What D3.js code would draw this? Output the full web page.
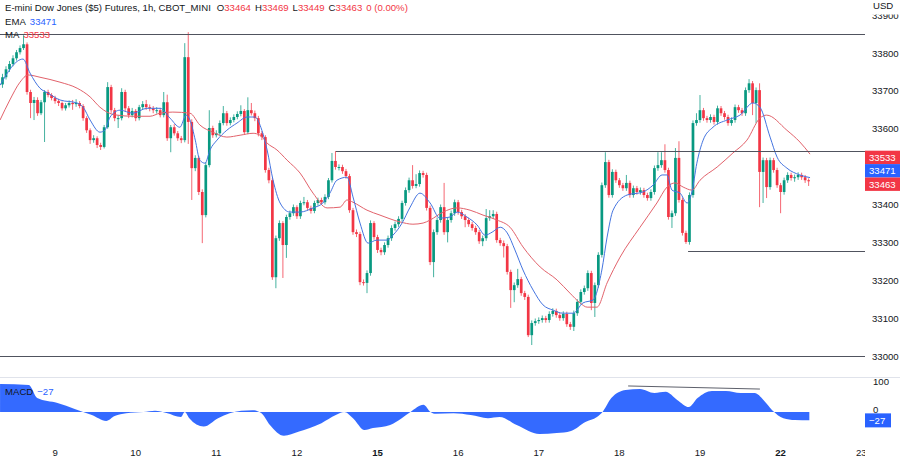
<!DOCTYPE html>
<html><head><meta charset="utf-8">
<script src="https://cdn.jsdelivr.net/npm/d3@7/dist/d3.min.js"></script>
<style>
html,body{margin:0;padding:0;background:#fff;}
svg{display:block;}
text{font-family:"Liberation Sans",Arial,sans-serif;}
</style></head>
<body><svg id="chart" width="900" height="459"></svg>
<script>
// ---------- DATA ----------
const title = "E-mini Dow Jones ($5) Futures, 1h, CBOT_MINI";
const changeText = "0 (0.00%)";
const firstOpen = 33717;
const closes = [
33736,33757,33771,33786,33802,33813,33823,33697,33668,33676,
33641,33670,33697,33689,33681,33673,33668,33654,33662,33668,
33665,33668,33660,33628,33596,33570,33575,33557,33552,33604,
33710,33649,33628,33628,33697,33654,33636,33647,33628,33657,
33665,33657,33654,33649,33649,33636,33670,33575,33604,33588,
33575,33570,33789,33618,33496,33523,33433,33372,33504,33602,
33583,33588,33615,33641,33615,33623,33631,33639,33647,33591,
33649,33641,33628,33588,33578,33491,33464,33208,33311,33351,
33293,33367,33377,33393,33369,33404,33406,33391,33383,33404,
33412,33406,33420,33464,33515,33499,33499,33488,33475,33385,
33327,33322,33195,33193,33219,33351,33314,33280,33274,33293,
33311,33338,33348,33362,33404,33438,33464,33449,33454,33483,
33478,33391,33248,33327,33359,33393,33327,33359,33377,33406,
33380,33369,33359,33348,33338,33327,33303,33311,33364,33369,
33375,33306,33298,33290,33222,33174,33187,33203,33166,33156,
33055,33087,33092,33095,33100,33095,33111,33119,33108,33100,
33111,33084,33077,33113,33143,33169,33179,33219,33140,33187,
33267,33451,33512,33425,33486,33464,33451,33443,33457,33425,
33443,33433,33438,33425,33417,33433,33496,33504,33517,33491,
33367,33377,33523,33412,33325,33301,33425,33615,33623,33649,
33628,33623,33631,33618,33654,33641,33631,33615,33623,33657,
33649,33641,33702,33720,33668,33702,33486,33517,33446,33517,
33491,33451,33433,33464,33478,33470,33472,33478,33472,33464,
33463];
const highs = [
33745,33765,33779,33794,33808,33820,33847,33828,33703,33684,
33683,33676,33702,33703,33694,33687,33679,33672,33668,33675,
33676,33678,33673,33665,33633,33601,33583,33580,33563,33610,
33723,33716,33655,33636,33707,33703,33660,33655,33652,33663,
33673,33676,33664,33660,33657,33655,33697,33690,33610,33612,
33594,33581,33826,33855,33625,33530,33528,33440,33512,33649,
33608,33596,33622,33660,33647,33630,33638,33646,33662,33652,
33683,33668,33648,33634,33594,33583,33497,33470,33318,33358,
33356,33373,33384,33400,33398,33410,33420,33412,33397,33410,
33418,33418,33427,33470,33536,33541,33506,33505,33494,33481,
33391,33334,33328,33202,33226,33358,33356,33320,33286,33300,
33318,33345,33355,33369,33410,33445,33471,33504,33480,33490,
33489,33484,33397,33334,33366,33400,33457,33366,33384,33413,
33412,33386,33375,33365,33354,33344,33333,33318,33388,33385,
33385,33381,33312,33305,33296,33228,33194,33230,33209,33172,
33162,33094,33099,33102,33107,33106,33118,33126,33125,33114,
33118,33117,33090,33120,33150,33176,33186,33226,33225,33194,
33274,33458,33538,33518,33493,33492,33470,33457,33478,33463,
33450,33449,33445,33444,33431,33440,33503,33538,33538,33559,
33497,33384,33549,33567,33418,33331,33432,33622,33641,33689,
33655,33634,33638,33637,33661,33660,33647,33637,33630,33664,
33663,33655,33709,33731,33726,33709,33720,33524,33523,33524,
33523,33497,33457,33471,33485,33484,33479,33485,33484,33478,
33469];
const lows = [
33708,33730,33750,33765,33780,33796,33808,33690,33628,33623,
33634,33636,33565,33683,33675,33666,33660,33648,33648,33656,
33650,33658,33654,33621,33589,33560,33563,33549,33544,33548,
33600,33642,33620,33602,33622,33647,33628,33630,33620,33622,
33650,33650,33646,33641,33640,33630,33630,33568,33538,33582,
33568,33562,33564,33560,33412,33488,33425,33298,33366,33498,
33576,33577,33582,33609,33608,33609,33617,33625,33633,33584,
33586,33635,33620,33580,33570,33484,33456,33201,33179,33304,
33206,33259,33360,33370,33362,33362,33398,33384,33376,33377,
33397,33399,33400,33414,33458,33492,33490,33481,33468,33378,
33320,33314,33187,33186,33166,33212,33307,33272,33266,33267,
33286,33304,33331,33341,33355,33397,33431,33442,33443,33447,
33471,33384,33240,33208,33320,33352,33320,33300,33352,33370,
33373,33362,33340,33341,33331,33320,33296,33290,33304,33357,
33362,33299,33291,33260,33215,33127,33142,33180,33159,33148,
33050,33029,33080,33085,33088,33088,33088,33104,33101,33093,
33093,33077,33069,33066,33106,33136,33162,33172,33121,33103,
33180,33260,33444,33418,33418,33457,33444,33436,33436,33418,
33418,33426,33426,33418,33410,33410,33426,33489,33497,33484,
33360,33338,33370,33405,33318,33296,33294,33418,33608,33616,
33621,33616,33616,33611,33611,33634,33624,33608,33608,33616,
33642,33634,33634,33695,33636,33615,33393,33404,33417,33439,
33484,33444,33377,33426,33457,33463,33460,33465,33465,33457,
33449];
// EMA (blue) and MA (red) read as [bar index, price]
const emaPts = [[-0.7,33715],[5.85,33784],[7.85,33747],[10.7,33707],[13,33694],[16.4,33676],[21.3,33668],[23,33657],[25,33623],[27.8,33591],[29.2,33596],[30.7,33631],[33.5,33649],[37.2,33641],[41.2,33654],[45,33654],[47.8,33628],[50.6,33604],[52.4,33636],[53.5,33623],[55,33570],[56.3,33517],[57.8,33509],[59.2,33544],[61.2,33570],[64,33596],[66.9,33615],[69.8,33631],[72,33631],[74,33596],[75.5,33544],[77.2,33464],[79.2,33404],[82,33380],[84.9,33380],[88.6,33391],[91.4,33404],[93.4,33430],[95.4,33464],[98.3,33472],[100,33420],[102,33351],[104.3,33298],[106.8,33306],[109.7,33306],[111.4,33319],[114,33351],[116.3,33393],[119.1,33430],[122,33404],[124.8,33364],[127.7,33367],[129.7,33380],[132.5,33367],[135.4,33346],[137.7,33319],[139.7,33327],[142,33340],[144,33325],[146.2,33280],[148.5,33227],[151.4,33174],[154.2,33135],[157.1,33121],[159.9,33113],[162.8,33113],[165.6,33140],[168.5,33148],[171,33227],[172.5,33314],[174.2,33385],[178.2,33425],[182.7,33433],[185.6,33451],[188.2,33478],[189.6,33478],[191,33438],[193.3,33430],[195.3,33404],[196.7,33433],[198.1,33509],[199.9,33570],[202.7,33604],[206.7,33623],[210.4,33636],[214.1,33668],[216.1,33657],[219,33578],[221,33525],[223.8,33496],[227.5,33478],[230.4,33471]];
const maPts = [[-0.7,33623],[2.1,33676],[5,33723],[7.3,33742],[10.7,33736],[16.4,33723],[21.3,33707],[25,33684],[27.8,33657],[29.8,33644],[32.7,33636],[37.2,33633],[42.1,33633],[44.9,33641],[48.6,33644],[53.5,33641],[56.3,33610],[60,33591],[64,33578],[67.8,33583],[71.5,33588],[73.5,33583],[75.5,33562],[78.3,33544],[81.2,33517],[84.9,33483],[88.6,33430],[92.6,33391],[96.3,33393],[98.3,33412],[100,33406],[104,33385],[107.7,33372],[113.4,33354],[117.1,33348],[120,33351],[122,33359],[125.7,33380],[129.7,33391],[133.4,33385],[137.1,33372],[141.1,33359],[144.8,33340],[148.5,33288],[153.4,33235],[158.2,33201],[161.9,33166],[164.8,33140],[166.8,33129],[169.6,33129],[172.5,33193],[176.2,33261],[181.9,33340],[186.7,33404],[189.6,33446],[191.9,33457],[194.2,33446],[196.7,33438],[199,33464],[203.9,33499],[208.4,33536],[212.4,33570],[216.1,33628],[218,33636],[223.8,33596],[227.5,33565],[230.4,33533]];
// MACD area read as [bar index, value]
const macdPts = [[-0.7,90],[7.5,87],[9.9,45],[15.7,29],[20.6,10],[23,0],[25.5,-10],[29.6,-29],[32,-13],[35.3,-4],[40.2,0],[43.5,4],[46.8,-3],[50.9,-16],[52,0],[53.3,-20],[57.4,-47],[61.5,-20],[64.8,-4],[68.1,4],[71.3,6],[73.8,-3],[76.3,-42],[80.3,-77],[84.4,-64],[91,-36],[95.1,-10],[97.5,0],[100,-20],[103.3,-58],[105.7,-52],[110.6,-42],[113.9,-20],[116.4,0],[120.1,23],[122.1,0],[123.7,-6],[128.7,-4],[133.6,-10],[138.5,-20],[141.8,-16],[146.7,-42],[153.2,-71],[158.1,-68],[162.2,-61],[166.3,-32],[169.6,-16],[171.2,0],[173.7,45],[177.8,71],[181.9,74],[186,61],[189.2,65],[192.5,39],[195.8,16],[198.3,45],[202.4,68],[206.4,68],[210.6,61],[214.6,61],[217.1,39],[219.6,6],[222.8,-20],[226.1,-26],[230.2,-27]];
const macdTrend = [[178.5,84],[216.1,74]];
const macdLast = -27;
// horizontal drawings: price level and first bar index
const hLevels = [33850, 33541, 33278, 33000];
const hStarts = [-0.713, 95.1, 195.6, -0.713];
const priceTicks = [33000,33100,33200,33300,33400,33500,33600,33700,33800,33900];
const macdTicks = [0,100];
const dayLabels = ["9","10","11","12","15","16","17","18","19","22","23"];
const dayIndex  = [15,38,61,84,107,130,153,176,199,222,245];
const dayBold   = [false,false,false,false,true,false,false,false,false,true,false];

// ---------- DRAWING ----------
const GREEN="#089981", RED="#f23645", BLUE="#2962ff", TXT="#131722";
const FS = 9.6;
const svg=d3.select("#chart");
const PR=865;
const x=d3.scaleLinear().domain([-0.713,246.08]).range([0,PR]);
const y=d3.scaleLinear().domain([33000,33800]).range([356,53]);
const yM=d3.scaleLinear().domain([0,100]).range([412,381]);

const defs=svg.append("defs");
function clip(id,x0,y0,w,h){defs.append("clipPath").attr("id",id).append("rect").attr("x",x0).attr("y",y0).attr("width",w).attr("height",h);}
clip("cMain",0,13,PR,364);
clip("cMacd",0,378,PR,64);
clip("cAxisP",PR,14.5,35,362);
clip("cAxisX",0,440,PR,19);

svg.append("line").attr("x1",0).attr("x2",900).attr("y1",377.5).attr("y2",377.5).attr("stroke","#e0e3eb");

const candles=closes.map((c,i)=>({i,o:i?closes[i-1]:firstOpen,c,h:highs[i],l:lows[i]}));
const main=svg.append("g").attr("clip-path","url(#cMain)");
const col=d=>d.c>=d.o?GREEN:RED;
main.selectAll("line.w").data(candles).join("line").attr("class","w")
  .attr("x1",d=>x(d.i)).attr("x2",d=>x(d.i)).attr("y1",d=>y(d.h)).attr("y2",d=>y(d.l))
  .attr("stroke",col).attr("stroke-width",1).attr("opacity",0.75);
main.selectAll("rect.b").data(candles).join("rect").attr("class","b")
  .attr("x",d=>x(d.i)-1.35).attr("width",2.7)
  .attr("y",d=>y(Math.max(d.o,d.c)))
  .attr("height",d=>Math.max(1,Math.abs(y(d.o)-y(d.c))))
  .attr("fill",col);

const lineGen=d3.line().x(d=>x(d[0])).y(d=>y(d[1])).curve(d3.curveMonotoneX);
main.append("path").attr("d",lineGen(maPts)).attr("fill","none").attr("stroke","#e2626b").attr("stroke-width",1);
main.append("path").attr("d",lineGen(emaPts)).attr("fill","none").attr("stroke","#4474e0").attr("stroke-width",1);

hLevels.forEach((v,k)=>{
  main.append("line").attr("x1",x(hStarts[k])).attr("x2",PR)
    .attr("y1",Math.round(y(v))+0.5).attr("y2",Math.round(y(v))+0.5)
    .attr("stroke","#50535e").attr("stroke-width",1);
});

// legend
const n=closes.length-1;
const lg=svg.append("g").attr("font-size",FS).attr("fill",TXT);
const t1=lg.append("text").attr("x",5).attr("y",11);
t1.append("tspan").text(title);
[["O",candles[n].o],["H",highs[n]],["L",lows[n]],["C",closes[n]]].forEach(([k,v],j)=>{
  t1.append("tspan").attr("dx",j?4:6).text(k);
  t1.append("tspan").attr("fill",RED).text(v);
});
t1.append("tspan").attr("dx",4).attr("fill",RED).text(changeText);
const t2=lg.append("text").attr("x",5).attr("y",24.5);
t2.append("tspan").text("EMA");
t2.append("tspan").attr("dx",4).attr("fill",BLUE).text(emaPts[emaPts.length-1][1]);
const t3=lg.append("text").attr("x",5).attr("y",37.5);
t3.append("tspan").text("MA");
t3.append("tspan").attr("dx",4).attr("fill",RED).text(maPts[maPts.length-1][1]);

// price tags with simple collision stacking
const tags=[{v:maPts[maPts.length-1][1],c:RED},{v:emaPts[emaPts.length-1][1],c:BLUE},{v:closes[n],c:RED}]
  .map(t=>({...t,py:y(t.v)})).sort((a,b)=>a.py-b.py);
const TH=13.4;
const mean=d3.mean(tags,t=>t.py);
tags.forEach((t,k)=>{t.cy=mean+(k-(tags.length-1)/2)*TH;});

// price axis (labels hidden under tags, as in the reference)
const visibleTicks=priceTicks.filter(v=>tags.every(t=>Math.abs(y(v)-t.cy)>TH));
const pa=svg.append("g").attr("clip-path","url(#cAxisP)").attr("font-size",FS).attr("fill",TXT);
pa.selectAll("text").data(visibleTicks).join("text").attr("x",872).attr("y",d=>y(d)+3.5).text(d=>d);
svg.append("text").attr("x",873).attr("y",8.5).attr("font-size",FS).attr("fill",TXT).text("USD");

tags.forEach(t=>{
  svg.append("rect").attr("x",PR).attr("y",t.cy-TH/2).attr("width",35).attr("height",TH).attr("fill",t.c);
  svg.append("text").attr("x",869).attr("y",t.cy+3.5).attr("font-size",FS).attr("fill","#fff").text(t.v);
});

// MACD pane
const mg=svg.append("g").attr("clip-path","url(#cMacd)");
const area=d3.area().x(d=>x(d[0])).y0(yM(0)).y1(d=>yM(d[1])).curve(d3.curveMonotoneX);
mg.append("path").attr("d",area(macdPts)).attr("fill",BLUE).attr("opacity",0.95);
const tl=d3.line().x(d=>x(d[0])).y(d=>yM(d[1]));
mg.append("path").attr("d",tl(macdTrend)).attr("stroke","#5d606b").attr("stroke-width",1).attr("fill","none");
const ml=svg.append("text").attr("x",5).attr("y",395).attr("font-size",FS).attr("fill",TXT);
ml.append("tspan").text("MACD");
ml.append("tspan").attr("dx",4).attr("fill",BLUE).text(String(macdLast).replace("-","\u2212"));
svg.selectAll("text.mt").data(macdTicks).join("text").attr("class","mt")
  .attr("x",873).attr("y",d=>yM(d)+3.5-(d===0?3:0)).attr("font-size",FS).attr("fill",TXT).text(d=>d);
svg.append("rect").attr("x",PR).attr("y",yM(macdLast)-7).attr("width",26).attr("height",14).attr("fill",BLUE);
svg.append("text").attr("x",869).attr("y",yM(macdLast)+3.5).attr("font-size",FS).attr("fill","#fff").text(String(macdLast).replace("-","\u2212"));

// time axis
const xa=svg.append("g").attr("clip-path","url(#cAxisX)").attr("font-size",FS).attr("fill",TXT);
xa.selectAll("text").data(dayLabels).join("text")
  .attr("x",(d,k)=>x(dayIndex[k])).attr("y",455.5).attr("text-anchor","middle")
  .attr("font-weight",(d,k)=>dayBold[k]?"bold":"normal").text(d=>d);
</script></body></html>
